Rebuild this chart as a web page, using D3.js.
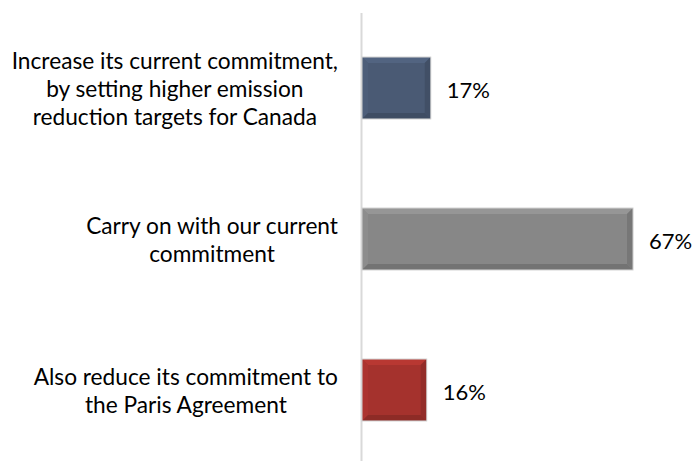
<!DOCTYPE html>
<html>
<head>
<meta charset="utf-8">
<script src="https://cdn.jsdelivr.net/npm/d3@7"></script>
<style>
  html, body { margin: 0; padding: 0; background: #fff; }
  svg { display: block; }
</style>
</head>
<body>
<svg id="chart" width="695" height="461"></svg>
<script>
const categories = [
  ["Increase its current commitment,", "by setting higher emission", "reduction targets for Canada"],
  ["Carry on with our current", "commitment"],
  ["Also reduce its commitment to", "the Paris Agreement"]
];
const values = [0.17, 0.67, 0.16];
const valueLabels = ["17%", "67%", "16%"];
const colors = ["#4a5a74", "#878787", "#a5322d"];

const svg = d3.select("#chart");
const FONT = "Lato, 'Liberation Sans', sans-serif";
const FS = 22.7;

const x = d3.scaleLinear().domain([0, 0.7]).range([362, 362 + 0.7 * 404.5]);
const y = d3.scaleBand().domain(d3.range(categories.length))
  .range([12.5, 465.5]).paddingInner(0.59).paddingOuter(0.295);

// vertical category axis line
const axis = d3.axisLeft(y).tickSize(0).tickFormat("");
const ag = svg.append("g").attr("transform", "translate(361,0)").call(axis);
ag.select(".domain").attr("stroke", "#d9d9d9").attr("stroke-width", 2);

// bars with bevel
const b = 6;
const bars = svg.append("g").selectAll("g").data(values).join("g");
bars.each(function(v, i) {
  const g = d3.select(this);
  const x0 = x(0), x1 = x(v), y0 = y(i), y1 = y(i) + y.bandwidth();
  const base = d3.color(colors[i]);
  g.append("rect").attr("x", x0).attr("y", y0).attr("width", x1 - x0).attr("height", y1 - y0)
    .attr("fill", base.formatHex());
  const poly = (pts, fill) => g.append("polygon").attr("points", pts.map(p => p.join(",")).join(" ")).attr("fill", fill);
  poly([[x0, y0], [x1, y0], [x1 - b, y0 + b], [x0 + b, y0 + b]], base.brighter(0.3).formatHex());
  poly([[x0, y0], [x0 + b, y0 + b], [x0 + b, y1 - b], [x0, y1]], base.brighter(0.12).formatHex());
  poly([[x1, y0], [x1, y1], [x1 - b, y1 - b], [x1 - b, y0 + b]], base.darker(0.35).formatHex());
  poly([[x0, y1], [x0 + b, y1 - b], [x1 - b, y1 - b], [x1, y1]], base.darker(0.45).formatHex());
  g.append("rect").attr("x", x0).attr("y", y0).attr("width", x1 - x0).attr("height", y1 - y0)
    .attr("fill", "none").attr("stroke", "#cfcfcf").attr("stroke-width", 1);
});

// value labels
svg.append("g").selectAll("text").data(values).join("text")
  .attr("x", d => x(d) + 16)
  .attr("y", (d, i) => y(i) + y.bandwidth() / 2 + 1)
  .attr("dominant-baseline", "central")
  .attr("font-family", FONT).attr("font-size", 22).attr("fill", "#000")
  .text((d, i) => valueLabels[i]);

// category labels: lines centered, block right-aligned
const lh = 28;
const lg = svg.append("g");
categories.forEach((lines, i) => {
  const t = lg.append("text").attr("font-family", FONT).attr("font-size", FS).attr("fill", "#000")
    .attr("text-anchor", "middle").attr("dominant-baseline", "central");
  const cy = y(i) + y.bandwidth() / 2;
  lines.forEach((ln, k) => {
    t.append("tspan").attr("x", 0).attr("y", cy + (k - (lines.length - 1) / 2) * lh).text(ln);
  });
  const w = d3.max(t.selectAll("tspan").nodes(), n => n.getComputedTextLength());
  t.selectAll("tspan").attr("x", 338 - w / 2);
});
</script>
</body>
</html>
